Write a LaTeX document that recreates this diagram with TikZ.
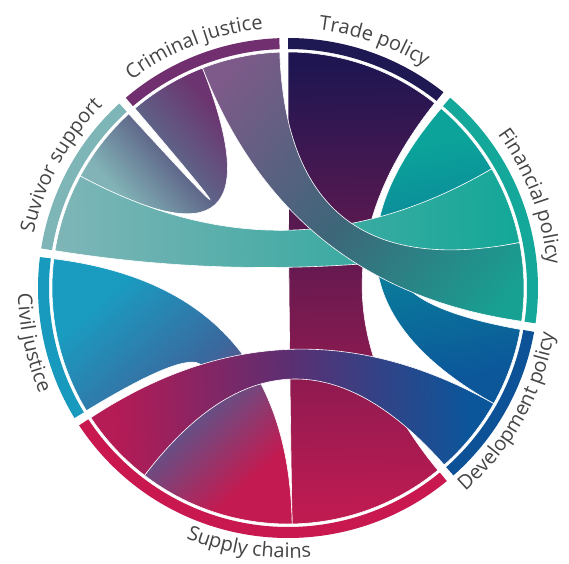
\documentclass[tikz,border=0pt]{standalone}
\usepackage{fontspec}
\setmainfont{Open Sans}
\newfontfamily\lblfamily{Open Sans}
\usetikzlibrary{decorations.text}

\definecolor{bTrade}{HTML}{1E1952}
\definecolor{bFin}{HTML}{13A89A}
\definecolor{bDev}{HTML}{0D5197}
\definecolor{bSupply}{HTML}{C8184F}
\definecolor{bCivil}{HTML}{1899BE}
\definecolor{bSuv}{HTML}{7EB5B7}
\definecolor{bCrim}{HTML}{722F70}
\definecolor{labelc}{HTML}{454545}

\colorlet{chA}{black}\colorlet{chM}{gray}\colorlet{chB}{white}
\pgfdeclarehorizontalshading[chA,chM,chB]{chordshade}{100bp}{%
  color(0bp)=(chA); color(43.75bp)=(chA); color(50bp)=(chM);
  color(56.25bp)=(chB); color(100bp)=(chB)}

\def\Rr{236}
\def\Rq{78.667}
\newcommand\ribbonpath[4]{(#1:\Rr) arc[start angle=#1, end angle=#2, radius=\Rr] .. controls (#2:\Rq) and (#3:\Rq) .. (#3:\Rr) arc[start angle=#3, end angle=#4, radius=\Rr] .. controls (#4:\Rq) and (#1:\Rq) .. cycle}

% #1-#4: source and target arcs; #5,#6,#7: colours; #8: gradient spread factor
\newcommand\chord[8]{%
  \definecolor{chA}{HTML}{#5}\definecolor{chM}{HTML}{#6}\definecolor{chB}{HTML}{#7}%
  \pgfmathsetmacro\cma{(#1+#2)/2}%
  \pgfmathsetmacro\cmb{(#3+#4)/2}%
  \pgfmathsetmacro\cpx{236*cos(\cma)}%
  \pgfmathsetmacro\cpy{236*sin(\cma)}%
  \pgfmathsetmacro\cqx{236*cos(\cmb)}%
  \pgfmathsetmacro\cqy{236*sin(\cmb)}%
  \pgfmathsetmacro\cdx{\cqx-\cpx}%
  \pgfmathsetmacro\cdy{\cqy-\cpy}%
  \pgfmathsetmacro\clen{veclen(\cdx,\cdy)*#8}%
  \pgfmathsetmacro\cang{atan2(\cdy,\cdx)}%
  \pgfmathsetmacro\cmx{(\cpx+\cqx)/2}%
  \pgfmathsetmacro\cmy{(\cpy+\cqy)/2}%
  \begin{scope}
    \clip \ribbonpath{#1}{#2}{#3}{#4};
    \begin{scope}[transform canvas={rotate around={\cang:(\cmx,\cmy)}}]
      \shade[shading=chordshade] (\cmx-2*\clen,\cmy-2*\clen) rectangle (\cmx+2*\clen,\cmy+2*\clen);
    \end{scope}
  \end{scope}
  \draw[white, line width=0.6pt] \ribbonpath{#1}{#2}{#3}{#4};
}

\newcommand\band[3]{\fill[#3] (#1:239) arc[start angle=#1, end angle=#2, radius=239] -- (#2:250) arc[start angle=#2, end angle=#1, radius=250] -- cycle;}

\def\lbl{\lblfamily\fontsize{20}{20}\selectfont}
\newcommand\cwlabel[2]{\path[decorate, decoration={text along path, text align=center, text color=labelc, text={|\lbl|#2}}] (#1+50:260) arc[start angle=#1+50, end angle=#1-50, radius=260];}
\newcommand\ccwlabel[2]{\path[decorate, decoration={text along path, text align=center, text color=labelc, text={|\lbl|#2}}] (#1-50:270) arc[start angle=#1-50, end angle=#1+50, radius=270];}

\begin{document}
\begin{tikzpicture}[x=1pt,y=1pt]
\useasboundingbox (-288,-275) rectangle (281,288);
\fill[white] (-288,-275) rectangle (281,288);

% outer bands
\band{51.556}{90}{bTrade}
\band{-8.111}{49.556}{bFin}
\band{-48.556}{-10.111}{bDev}
\band{-146.667}{-50.556}{bSupply}
\band{172.889}{211.333}{bCivil}
\band{132.444}{170.889}{bSuv}
\band{92}{130.444}{bCrim}

% chords
\chord{51.556}{90}{-89}{-50.556}{1F1651}{6E1A50}{BE1B51}{1}
\chord{172.889}{211.333}{232.556}{271}{1A9CC1}{3B679D}{C31B51}{1}
\chord{-29.333}{-10.111}{30.333}{49.556}{0B579A}{0A7E9B}{0BA39A}{1}
\chord{111.222}{130.444}{132.444}{151.667}{6C3470}{5E6488}{82B4B7}{1.5}
\chord{11.111}{30.333}{151.667}{170.889}{15A898}{4AACA6}{7DB5B7}{1}
\chord{-8.111}{11.111}{92}{111.222}{17A193}{3D6679}{7D5A89}{1}
\chord{213.333}{232.556}{311.444}{330.667}{B51B55}{5A2F72}{0B569B}{1}

% labels
\cwlabel{111.222}{Criminal justice}
\cwlabel{70.778}{Trade policy}
\cwlabel{20.722}{Financial policy}
\cwlabel{151.667}{Suvivor support}
\ccwlabel{-29.333}{Development policy}
\ccwlabel{-98.611}{Supply chains}
\ccwlabel{192.111}{Civil justice}
\end{tikzpicture}
\end{document}
